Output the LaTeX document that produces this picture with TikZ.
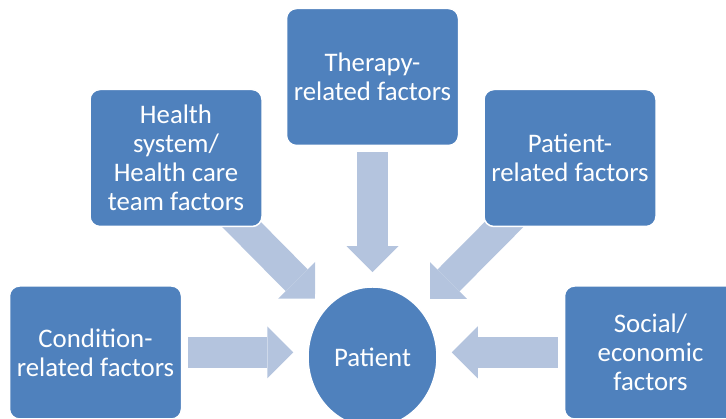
\documentclass[tikz,border=0pt]{standalone}
\usepackage{fontspec}
\setmainfont{Carlito}
\usetikzlibrary{shapes.geometric,arrows.meta,positioning,backgrounds}

\definecolor{boxblue}{RGB}{79,129,189}
\definecolor{arrowblue}{RGB}{180,196,222}

\begin{document}
\begin{tikzpicture}[
  factor/.style={draw=white, line width=1.5pt, fill=boxblue, rounded corners=10pt,
    minimum width=172pt, minimum height=137pt, text=white, align=center,
    font=\fontsize{26.8}{29}\selectfont, inner sep=2pt},
  bigarrow/.style={line width=31pt, draw=arrowblue,
    -{Triangle[length=26pt, width=52pt, line width=0pt]},
    shorten <=6pt, shorten >=14pt}]
\useasboundingbox (0,0) rectangle (726pt,419pt);

% Patient in the middle
\node[draw=white, line width=1.5pt, fill=boxblue, ellipse, minimum width=129pt,
  minimum height=140pt, text=white, font=\fontsize{26.8}{29}\selectfont] (patient) at (372.5pt,62pt) {Patient};

% Factor boxes
\node[factor, above=140pt of patient] (therapy) {Therapy-\\related factors};
\node[factor, left=23pt of therapy, yshift=-81pt] (health) {Health\\system/\\Health care\\team factors};
\node[factor, right=24pt of therapy, yshift=-81pt] (patientrel) {Patient-\\related factors};
\node[factor, minimum height=133pt, left=125pt of patient, yshift=4.5pt] (condition) {Condition-\\related factors};
\node[factor, minimum height=133pt, right=126pt of patient, yshift=4.5pt] (social) {Social/\\economic\\factors};

% Arrows into the patient
\begin{scope}[on background layer]
\draw[bigarrow] (therapy) -- (patient);
\draw[bigarrow, shorten <=-20pt] (health) -- (patient);
\draw[bigarrow, shorten <=-20pt] (patientrel) -- (patient);
\draw[bigarrow] (condition.east) -- (condition.east -| patient.west);
\draw[bigarrow] (social.west) -- (social.west -| patient.east);
\end{scope}
\end{tikzpicture}
\end{document}
